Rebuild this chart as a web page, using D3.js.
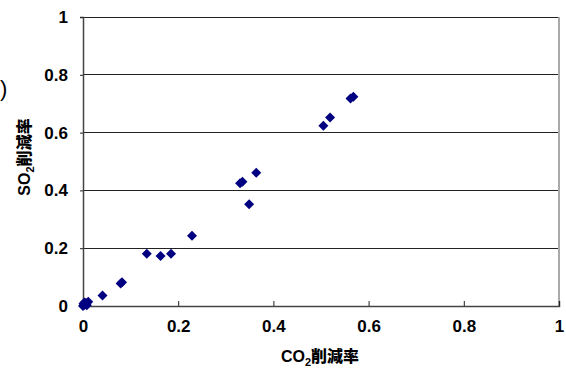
<!DOCTYPE html>
<html><head><meta charset="utf-8">
<script src="https://cdn.jsdelivr.net/npm/d3@7"></script>
<style>body{margin:0;background:#fff}svg{display:block}</style>
</head><body>
<svg id="c" width="566" height="369"></svg>
<script>
const co2Reduction = [0, 0.002, 0.004, 0.006, 0.003, 0.008, 0.001, 0.007, 0.011, 0.041, 0.079, 0.082, 0.134, 0.163, 0.185, 0.229, 0.330, 0.335, 0.349, 0.364, 0.505, 0.519, 0.562, 0.568];
const so2Reduction = [0, 0.003, 0.006, 0.010, 0.012, 0.003, 0.008, 0.007, 0.015, 0.036, 0.078, 0.082, 0.181, 0.173, 0.181, 0.243, 0.425, 0.430, 0.352, 0.461, 0.624, 0.652, 0.718, 0.724];
const xTicks = [0, 0.2, 0.4, 0.6, 0.8, 1];
const yTicks = [0, 0.2, 0.4, 0.6, 0.8, 1];

const svg = d3.select("#c");
const L = 83, R = 559, T = 17, B = 306;
const x = d3.scaleLinear().domain([0, 1]).range([L, R]);
const y = d3.scaleLinear().domain([0, 1]).range([B, T]);
const font = "'Liberation Sans', Arial, sans-serif";
const cjk = "'Noto Sans CJK JP', sans-serif";

// gridlines
svg.append("g").selectAll("line").data(yTicks.filter(d => d > 0)).join("line")
  .attr("x1", L).attr("x2", R).attr("y1", d => y(d)).attr("y2", d => y(d))
  .attr("stroke", "#222").attr("stroke-width", 1).attr("shape-rendering", "crispEdges");
// right border
svg.append("line").attr("x1", R).attr("x2", R).attr("y1", T).attr("y2", B)
  .attr("stroke", "#aaa").attr("stroke-width", 2);

// axes
const yAxis = d3.axisLeft(y).tickValues(yTicks).tickSize(3).tickFormat(d3.format("~g"));
const gy = svg.append("g").attr("transform", `translate(${L},0)`).call(yAxis);
const xAxis = d3.axisBottom(x).tickValues(xTicks).tickSize(-5).tickFormat(d3.format("~g"));
const gx = svg.append("g").attr("transform", `translate(0,${B})`).call(xAxis);
[gx, gy].forEach(g => {
  g.select(".domain").attr("stroke", "#444").attr("stroke-width", 1.5);
  g.selectAll(".tick line").attr("stroke", "#222");
  g.selectAll("text").attr("font-family", font).attr("font-size", 17)
    .attr("font-weight", "bold").attr("fill", "#000");
});
gy.selectAll("text").attr("x", -15);
gx.selectAll("text").attr("y", 14);

// markers (square rotated 45deg)
const data = co2Reduction.map((v, i) => ({ x: v, y: so2Reduction[i] }));
svg.append("g").selectAll("path").data(data).join("path")
  .attr("d", d3.symbol(d3.symbolSquare, 50))
  .attr("transform", d => `translate(${x(d.x)},${y(d.y)}) rotate(45)`)
  .attr("fill", "#000080");

// x title
const xt = svg.append("text").attr("x", 320).attr("y", 362).attr("text-anchor", "middle")
  .attr("font-family", font).attr("font-size", 16).attr("font-weight", "bold");
xt.append("tspan").text("CO");
xt.append("tspan").text("2").attr("font-size", 11).attr("dy", 4);
xt.append("tspan").text("削減率").attr("dy", -4).attr("font-family", cjk).attr("font-weight", 900);

// y title
const yt = svg.append("text").attr("transform", `translate(30,157) rotate(-90)`).attr("text-anchor", "middle")
  .attr("font-family", font).attr("font-size", 16).attr("font-weight", "bold");
yt.append("tspan").text("SO");
yt.append("tspan").text("2").attr("font-size", 11).attr("dy", 4);
yt.append("tspan").text("削減率").attr("dy", -4).attr("font-family", cjk).attr("font-weight", 900);

// stray fragment
svg.append("text").attr("x", 0).attr("y", 96).attr("font-family", font).attr("font-size", 22).text(")");
</script>
</body></html>
